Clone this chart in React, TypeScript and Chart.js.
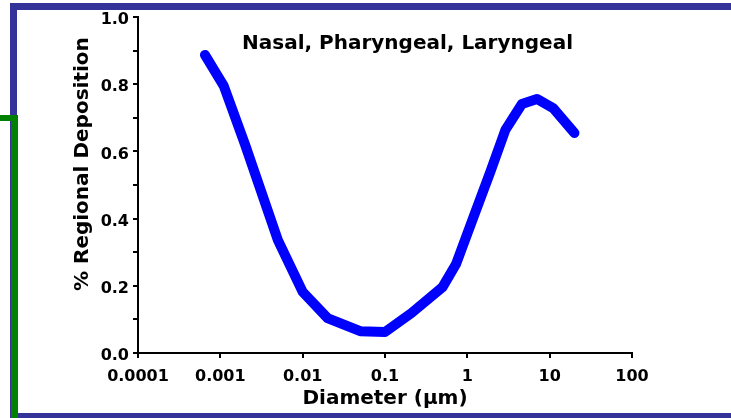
import React, { useEffect, useRef } from 'react';
import { Chart, registerables } from 'chart.js';

Chart.register(...registerables);

// ---- data ----
const diameters = [0.00065, 0.0011, 0.002, 0.005, 0.01, 0.02, 0.05, 0.1, 0.21, 0.5, 0.73, 1.17, 1.9, 2.9, 4.6, 7.0, 11, 20];
const deposition = [0.887, 0.795, 0.62, 0.336, 0.182, 0.104, 0.065, 0.0625, 0.119, 0.196, 0.265, 0.40, 0.539, 0.664, 0.741, 0.756, 0.729, 0.655];
const xTickValues = [0.0001, 0.001, 0.01, 0.1, 1, 10, 100];
const xTickLabels = ['0.0001', '0.001', '0.01', '0.1', '1', '10', '100'];
const yTickLabels = ['0.0', '', '0.2', '', '0.4', '', '0.6', '', '0.8', '', '1.0'];
const chartTitle = 'Nasal, Pharyngeal, Laryngeal';
const xTitle = 'Diameter (µm)';
const yTitle = '% Regional Deposition';

const FONT = 'DejaVu Sans';

const innerTitle = {
  id: 'innerTitle',
  afterDraw(chart: any) {
    const { ctx, chartArea } = chart;
    ctx.save();
    ctx.font = `bold 20px "${FONT}"`;
    ctx.fillStyle = '#000';
    ctx.textAlign = 'left';
    ctx.textBaseline = 'alphabetic';
    ctx.fillText(chartTitle, chartArea.left + 104, chartArea.top + 32);
    ctx.restore();
  },
};

export default function App() {
  const ref = useRef<HTMLCanvasElement>(null);

  useEffect(() => {
    if (!ref.current) return;
    const chart = new Chart(ref.current, {
      type: 'line',
      data: {
        datasets: [
          {
            data: diameters.map((d, i) => ({ x: d, y: deposition[i] })),
            borderColor: '#0000ff',
            borderWidth: 10,
            borderCapStyle: 'round',
            borderJoinStyle: 'round',
            pointRadius: 0,
            tension: 0,
            fill: false,
          },
        ],
      },
      options: {
        animation: false,
        responsive: false,
        maintainAspectRatio: false,
        devicePixelRatio: 1,
        layout: { padding: { left: 0, top: 17, right: 99, bottom: 0 } },
        plugins: {
          legend: { display: false },
          tooltip: { enabled: false },
          title: { display: false },
        },
        scales: {
          x: {
            type: 'logarithmic',
            min: 0.0001,
            max: 100,
            afterBuildTicks: (s: any) => {
              s.ticks = xTickValues.map((v) => ({ value: v }));
            },
            afterFit: (s: any) => {
              s.height = 65;
            },
            border: { display: true, color: '#000', width: 2 },
            grid: { display: true, drawOnChartArea: false, drawTicks: true, tickLength: 5, color: '#000', lineWidth: 2 },
            ticks: {
              color: '#000',
              font: { family: FONT, size: 16, weight: 'bold' },
              padding: 9,
              maxRotation: 0,
              autoSkip: false,
              callback: (_v: any, i: number) => xTickLabels[i],
            },
            title: {
              display: true,
              text: xTitle,
              color: '#000',
              font: { family: FONT, size: 20, weight: 'bold' },
              padding: { top: 0, bottom: 7 },
            },
          },
          y: {
            type: 'linear',
            min: 0,
            max: 1,
            afterFit: (s: any) => {
              s.width = 138;
            },
            border: { display: true, color: '#000', width: 2 },
            grid: { display: true, drawOnChartArea: false, drawTicks: true, tickLength: 5, color: '#000', lineWidth: 2 },
            ticks: {
              stepSize: 0.1,
              color: '#000',
              font: { family: FONT, size: 16, weight: 'bold' },
              padding: 4,
              labelOffset: 3,
              autoSkip: false,
              callback: (_v: any, i: number) => yTickLabels[i],
            },
            title: {
              display: true,
              text: '      ' + yTitle,
              color: '#000',
              font: { family: FONT, size: 20, weight: 'bold' },
              padding: { top: 71, bottom: 0 },
            },
          },
        },
      } as any,
      plugins: [innerTitle],
    });
    return () => chart.destroy();
  }, []);

  return (
    <div
      style={{
        position: 'fixed',
        left: 0,
        top: 0,
        width: 731,
        height: 418,
        background: '#fff',
        overflow: 'hidden',
      }}
    >
      <div
        style={{
          position: 'absolute',
          left: 10,
          top: 3,
          width: 800,
          height: 403,
          borderTop: '7px solid #333399',
          borderLeft: '7px solid #333399',
          borderBottom: '7px solid #333399',
        }}
      />
      <div
        style={{
          position: 'absolute',
          left: 0,
          top: 115,
          width: 11,
          height: 400,
          borderTop: '6px solid #008000',
          borderRight: '7px solid #008000',
        }}
      />
      <canvas
        ref={ref}
        width={731}
        height={418}
        style={{ position: 'absolute', left: 0, top: 0, width: 731, height: 418 }}
      />
    </div>
  );
}
